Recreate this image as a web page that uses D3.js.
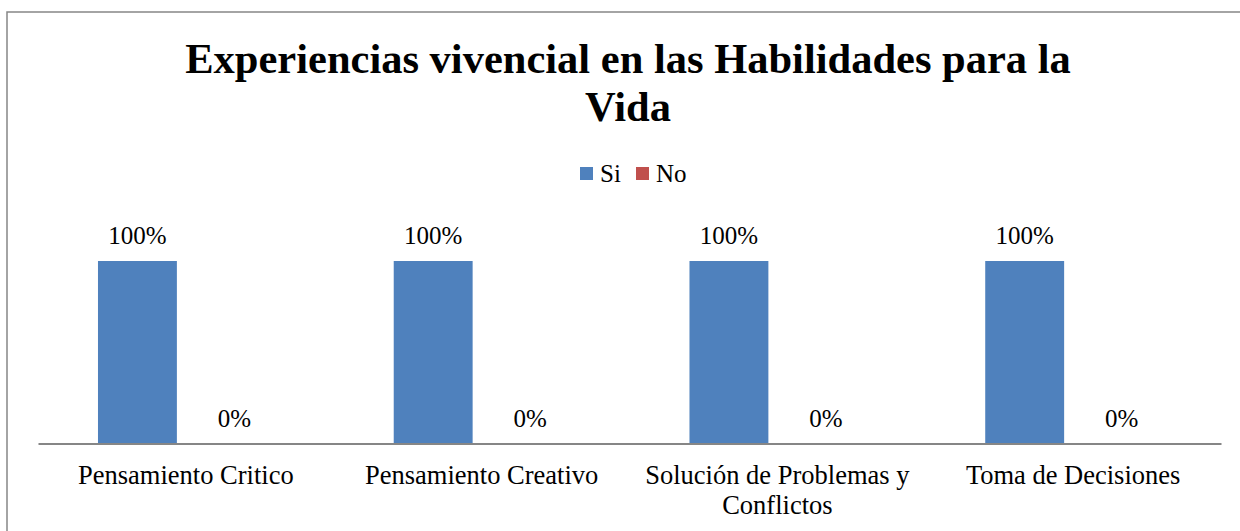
<!DOCTYPE html>
<html>
<head>
<meta charset="utf-8">
<script src="https://cdn.jsdelivr.net/npm/d3@7"></script>
<style>
  html, body { margin: 0; padding: 0; background: #fff; }
  svg { display: block; }
</style>
</head>
<body>
<svg id="chart" width="1240" height="531"></svg>
<script>
const titleLines = ["Experiencias vivencial en las Habilidades para la", "Vida"];
const categories = [["Pensamiento Critico"], ["Pensamiento Creativo"], ["Solución de Problemas y", "Conflictos"], ["Toma de Decisiones"]];
const seriesNames = ["Si", "No"];
const siValues = [1, 1, 1, 1];
const noValues = [0, 0, 0, 0];
const colors = ["#4F81BD", "#C0504D"];

const FONT = "'Times New Roman', 'Liberation Serif', 'DejaVu Serif', serif";
const svg = d3.select("#chart").attr("font-family", FONT);

// outer border
svg.append("rect").attr("x", 7).attr("y", 12).attr("width", 1260).attr("height", 560)
  .attr("fill", "#fff").attr("stroke", "#868686").attr("stroke-width", 1.5);

// title
const title = svg.append("text").attr("text-anchor", "middle")
  .attr("font-family", FONT).attr("font-weight", "bold").attr("font-size", 42.5);
titleLines.forEach((t, i) => {
  title.append("tspan").attr("x", 628).attr("y", 73 + i * 48).text(t);
});

// legend
const legend = svg.append("g");
const legItems = [{x: 580}, {x: 636}];
seriesNames.forEach((s, i) => {
  legend.append("rect").attr("x", legItems[i].x).attr("y", 167).attr("width", 13).attr("height", 13).attr("fill", colors[i]);
  legend.append("text").attr("x", legItems[i].x + 20).attr("y", 182)
    .attr("font-family", FONT).attr("font-size", 25).text(s);
});

// scales
const catIdx = categories.map((d, i) => i);
const x0 = d3.scaleBand().domain(catIdx).range([38, 1221]).padding(0);
const x1 = d3.scaleBand().domain(seriesNames).range([0, x0.bandwidth()]).paddingInner(0.1856).paddingOuter(0.619);
const y = d3.scaleLinear().domain([0, 1]).range([443.5, 261]);

const data = catIdx.map(i => ({ i, values: [{ s: "Si", v: siValues[i] }, { s: "No", v: noValues[i] }] }));

const groups = svg.append("g").selectAll("g").data(data).join("g")
  .attr("transform", d => `translate(${x0(d.i)},0)`);

groups.selectAll("rect").data(d => d.values).join("rect")
  .attr("x", d => x1(d.s))
  .attr("width", x1.bandwidth())
  .attr("y", d => y(d.v))
  .attr("height", d => y(0) - y(d.v))
  .attr("fill", (d, j) => colors[j]);

groups.selectAll("text.lbl").data(d => d.values).join("text")
  .attr("class", "lbl")
  .attr("text-anchor", "middle")
  .attr("font-family", FONT)
  .attr("x", d => x1(d.s) + x1.bandwidth() / 2)
  .attr("y", d => y(d.v) - 17)
  .attr("font-size", 25)
  .text(d => d3.format(".0%")(d.v));

// axis
const axis = d3.axisBottom(x0).tickSize(0).tickFormat("");
const ag = svg.append("g").attr("transform", `translate(0,${y(0)})`).call(axis);
ag.select(".domain").attr("stroke", "#868686").attr("stroke-width", 2);

// category labels
const cl = svg.append("g").selectAll("text").data(catIdx).join("text")
  .attr("text-anchor", "middle").attr("font-family", FONT).attr("font-size", 26.5);
cl.each(function(i) {
  const t = d3.select(this);
  categories[i].forEach((line, k) => {
    t.append("tspan").attr("x", x0(i) + x0.bandwidth() / 2).attr("y", 484 + k * 30).text(line);
  });
});
</script>
</body>
</html>
